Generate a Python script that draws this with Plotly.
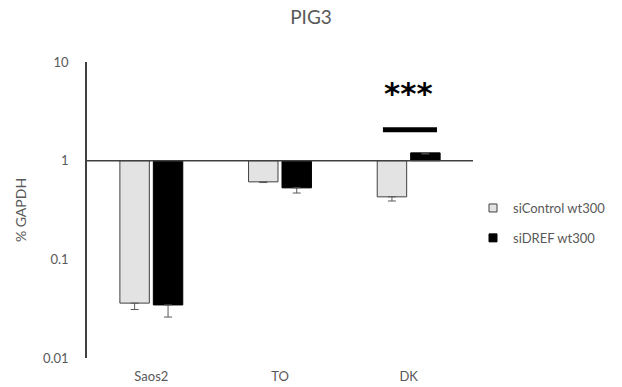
import plotly.graph_objects as go
import math

categories = ["Saos2", "TO", "DK"]
series_names = ["siControl wt300", "siDREF wt300"]
si_control = [0.036, 0.61, 0.43]
si_control_err_minus = [0.005, 0.01, 0.04]
si_dref = [0.0345, 0.53, 1.2]
si_dref_err_minus = [0.0085, 0.06, 0.03]
y_tick_vals = [0.01, 0.1, 1, 10]
y_tick_text = ["0.01", "0.1", "1", "10"]
sig_label = "***"
sig_value = 2.06
sig_label_value = 4.8

GRAY = "#595959"
FONT = "Lato"
BASE = 1.0
LIGHT = "#e3e3e3"
EDGE = "#404040"

fig = go.Figure()
fig.add_trace(go.Bar(
    name=series_names[0], x=categories,
    y=[v - BASE for v in si_control], base=BASE,
    marker=dict(color=LIGHT, line=dict(color=EDGE, width=1)),
    error_y=dict(type="data", symmetric=False, array=[0, 0, 0],
                 arrayminus=si_control_err_minus, color=GRAY, thickness=1, width=4),
    showlegend=False,
))
fig.add_trace(go.Bar(
    name=series_names[1], x=categories,
    y=[v - BASE for v in si_dref], base=BASE,
    marker=dict(color="#000000", line=dict(color="#000000", width=1)),
    error_y=dict(type="data", symmetric=False, array=[0, 0, 0],
                 arrayminus=si_dref_err_minus, color=GRAY, thickness=1, width=4),
    showlegend=False,
))
# legend entries (small square keys)
fig.add_trace(go.Scatter(name=series_names[0], x=[None], y=[None], mode="markers",
                         marker=dict(symbol="square", size=8, color=LIGHT,
                                     line=dict(color=EDGE, width=1)),
                         legendgroup="a"))
fig.add_trace(go.Scatter(name=series_names[1], x=[None], y=[None], mode="markers",
                         marker=dict(symbol="square", size=8, color="#000000",
                                     line=dict(color="#000000", width=1)),
                         legendgroup="b"))

# axis crossing line at 1
fig.add_shape(type="line", xref="paper", x0=0, x1=1, yref="y", y0=BASE, y1=BASE,
              line=dict(color=EDGE, width=1.5))
# significance bar
fig.add_shape(type="line", xref="x", x0=1.8, x1=2.22, yref="y", y0=sig_value, y1=sig_value,
              line=dict(color="#000000", width=5))
fig.add_annotation(x=2, y=math.log10(sig_label_value), text="<b>%s</b>" % sig_label, showarrow=False,
                   font=dict(family="DejaVu Sans", size=31, color="#000000"))

fig.update_layout(
    width=622, height=387,
    margin=dict(l=87, r=149, t=62, b=29, autoexpand=False),
    paper_bgcolor="white", plot_bgcolor="white",
    title=dict(text="PIG3", x=0.5, xref="container", xanchor="center", y=0.955, yanchor="middle",
               font=dict(family=FONT, size=19, color=GRAY)),
    bargap=0.48, bargroupgap=0.12, barmode="group",
    font=dict(family=FONT, size=12, color=GRAY),
    legend=dict(x=1.0, xanchor="left", y=0.456, yanchor="middle",
                font=dict(family=FONT, size=13, color=GRAY),
                tracegroupgap=10, traceorder="grouped", itemwidth=30,
                bgcolor="rgba(0,0,0,0)"),
    showlegend=True,
)
fig.update_xaxes(showline=False, showgrid=False, zeroline=False, ticks="",
                 ticklabelstandoff=9, tickfont=dict(family=FONT, size=13, color=GRAY),
                 range=[-0.5, 2.5], automargin=False)
fig.update_yaxes(type="log", range=[-2, 1], showline=True, linecolor=EDGE, linewidth=1.5,
                 showgrid=False, zeroline=False, ticks="", tickvals=y_tick_vals, ticktext=y_tick_text,
                 ticklabelstandoff=14, tickfont=dict(family=FONT, size=13, color=GRAY),
                 title=dict(text="% GAPDH", standoff=13, font=dict(family=FONT, size=14, color=GRAY)),
                 automargin=False)

fig.write_html("out.html")
